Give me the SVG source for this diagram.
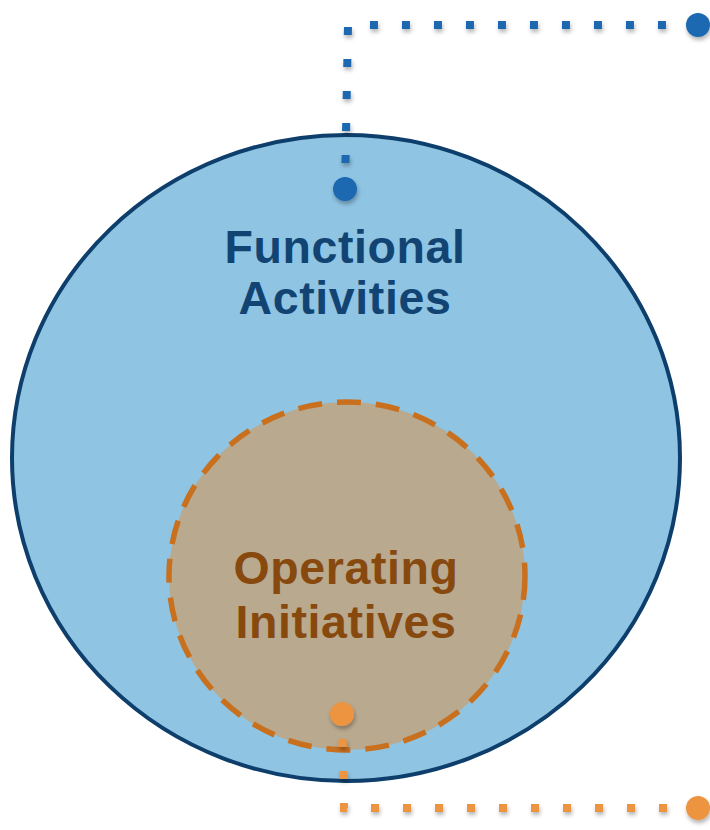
<svg xmlns="http://www.w3.org/2000/svg" width="710" height="830" viewBox="0 0 710 830">
<defs>
<filter id="sh" x="-50%" y="-50%" width="200%" height="200%">
<feDropShadow dx="1" dy="3" stdDeviation="2" flood-color="#000" flood-opacity="0.3"/>
</filter>
</defs>
<style>
.lbl{font-family:"Liberation Sans",Arial,sans-serif;font-weight:bold;text-anchor:middle;letter-spacing:0.6px}
.conn{fill:none;stroke-width:8;stroke-dasharray:8 24}
</style>
<g id="functional-activities">
<ellipse cx="346" cy="458" rx="334" ry="323" fill="#8fc4e3" stroke="#0e3f6c" stroke-width="4"/>
<text class="lbl" x="345" y="263" font-size="46.5" fill="#124473">Functional</text>
<text class="lbl" x="345" y="314" font-size="46.5" fill="#124473">Activities</text>
</g>
<g id="operating-initiatives">
<ellipse cx="347" cy="576" rx="178" ry="174" fill="#b9a98f" stroke="#c8701e" stroke-width="5.5" stroke-dasharray="24 15"/>
<text class="lbl" x="346" y="584" font-size="46.5" fill="#87490e">Operating</text>
<text class="lbl" x="346" y="638" font-size="46.5" fill="#87490e">Initiatives</text>
</g>
<g id="connectors">
<path class="conn" d="M345 189 L348 25 L698 25" stroke="#1a67b1" stroke-dashoffset="6" filter="url(#sh)"/>
<circle cx="345" cy="189" r="12" fill="#1a67b1" filter="url(#sh)"/>
<circle cx="698" cy="25" r="12" fill="#1a67b1" filter="url(#sh)"/>
<path class="conn" d="M342 714 L344 808 L698 808" stroke="#ec9440" stroke-dashoffset="7" filter="url(#sh)"/>
<circle cx="342" cy="714" r="12" fill="#ec9440" filter="url(#sh)"/>
<circle cx="698" cy="808" r="12" fill="#ec9440" filter="url(#sh)"/>
</g>
</svg>
